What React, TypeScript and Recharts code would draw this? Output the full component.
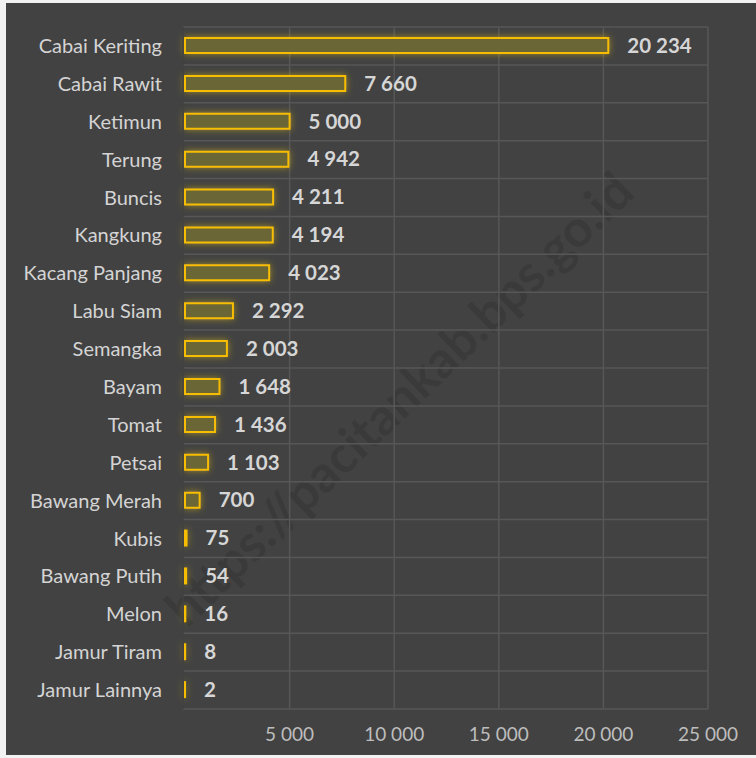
import { BarChart, Bar, XAxis, YAxis, CartesianGrid, LabelList, Rectangle } from 'recharts';

const CATEGORIES = [
  'Cabai Keriting',
  'Cabai Rawit',
  'Ketimun',
  'Terung',
  'Buncis',
  'Kangkung',
  'Kacang Panjang',
  'Labu Siam',
  'Semangka',
  'Bayam',
  'Tomat',
  'Petsai',
  'Bawang Merah',
  'Kubis',
  'Bawang Putih',
  'Melon',
  'Jamur Tiram',
  'Jamur Lainnya',
];

const VALUES = [20234, 7660, 5000, 4942, 4211, 4194, 4023, 2292, 2003, 1648, 1436, 1103, 700, 75, 54, 16, 8, 2];

const X_TICKS = [5000, 10000, 15000, 20000, 25000];
const X_MAX = 25000;
const X_PAD = 2;

const data = CATEGORIES.map((name, i) => ({ name, value: VALUES[i] }));

// space as thousands separator, like the source
const fmt = (v: number) => String(v).replace(/\B(?=(\d{3})+(?!\d))/g, ' ');

const GlowBar = (props: any) => (
  <Rectangle
    {...props}
    fill="#6b6634"
    stroke="#f7bd06"
    strokeWidth={2}
    filter="url(#glow)"
  />
);

export default function App() {
  return (
    <div style={{ position: 'absolute', left: 0, top: 0, width: 756, height: 758, background: '#f2f2f2' }}>
      <div
        style={{
          position: 'absolute',
          left: 6,
          top: 3,
          width: 750,
          height: 752,
          background: '#424242',
          fontFamily: 'Lato, sans-serif',
          overflow: 'hidden',
        }}
      >
        <div
          style={{
            position: 'absolute',
            left: 398 - 6,
            top: 398 - 3,
            transform: 'translate(-50%, -50%) rotate(-44deg)',
            whiteSpace: 'nowrap',
            fontSize: 51,
            fontWeight: 'bold',
            color: 'rgba(0,0,0,0.11)',
            pointerEvents: 'none',
          }}
        >
          https://pacitankab.bps.go.id
        </div>
        <BarChart
          width={750}
          height={752}
          data={data}
          layout="vertical"
          margin={{ top: 24, right: 48, left: 0, bottom: 0 }}
          barCategoryGap={0}
          style={{ position: 'absolute', left: 0, top: 0 }}
        >
          <defs>
            <filter id="glow" filterUnits="userSpaceOnUse" x="0" y="0" width="750" height="752">
              <feGaussianBlur in="SourceAlpha" stdDeviation="3.5" result="blur" />
              <feFlood floodColor="#e8c21a" floodOpacity="0.55" />
              <feComposite in2="blur" operator="in" result="glowColor" />
              <feMerge>
                <feMergeNode in="glowColor" />
                <feMergeNode in="SourceGraphic" />
              </feMerge>
            </filter>
          </defs>
          <CartesianGrid
            stroke="#575757"
            strokeWidth={1.5}
            verticalCoordinatesGenerator={({ offset }: any) =>
              X_TICKS.map((t) => offset.left + X_PAD + ((offset.width - X_PAD) * t) / X_MAX)
            }
            horizontalCoordinatesGenerator={({ offset }: any) => {
              const step = offset.height / CATEGORIES.length;
              return CATEGORIES.map((_, i) => offset.top + step * i).concat(offset.top + offset.height);
            }}
          />
          <XAxis
            type="number"
            domain={[0, X_MAX]}
            ticks={X_TICKS}
            padding={{ left: X_PAD, right: 0 }}
            axisLine={false}
            tickLine={false}
            tickMargin={13}
            height={46}
            tick={{ fill: '#bdbdbd', fontSize: 19 }}
            tickFormatter={fmt}
          />
          <YAxis
            type="category"
            dataKey="name"
            width={177}
            axisLine={{ stroke: '#424242', strokeWidth: 1.5 }}
            tickLine={false}
            tickMargin={15}
            interval={0}
            tick={{ fill: '#d4d4d4', fontSize: 20 }}
          />
          <Bar dataKey="value" barSize={15} shape={GlowBar} isAnimationActive={false}>
            <LabelList
              dataKey="value"
              position="right"
              offset={19}
              formatter={(v: any) => fmt(Number(v))}
              style={{ fill: '#d6d6d6', fontSize: 20.5, fontWeight: 'bold' }}
            />
          </Bar>
        </BarChart>
      </div>
    </div>
  );
}
